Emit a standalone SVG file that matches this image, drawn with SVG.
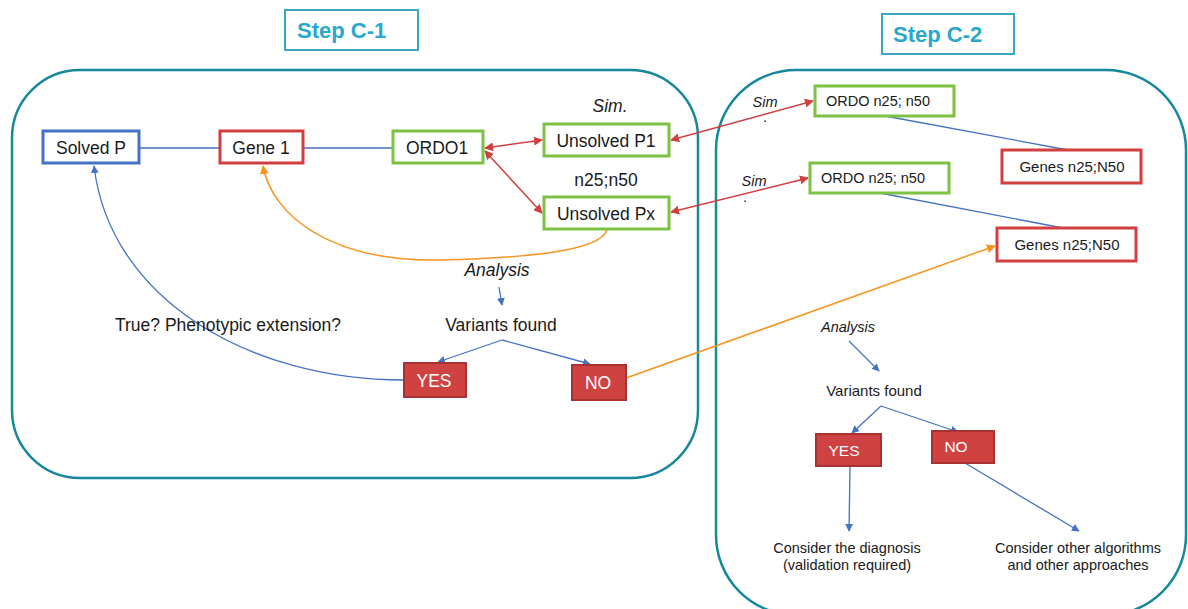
<svg xmlns="http://www.w3.org/2000/svg" width="1188" height="609" viewBox="0 0 1188 609">
<defs>
<marker id="ab" viewBox="0 0 10 10" refX="9" refY="5" markerWidth="6" markerHeight="6" orient="auto-start-reverse"><path d="M0,0 L10,5 L0,10 z" fill="#4472C4"/></marker>
<marker id="ar" viewBox="0 0 10 10" refX="9" refY="5" markerWidth="6" markerHeight="6" orient="auto-start-reverse"><path d="M0,0 L10,5 L0,10 z" fill="#D13F3F"/></marker>
<marker id="ao" viewBox="0 0 10 10" refX="9" refY="5" markerWidth="6" markerHeight="6" orient="auto-start-reverse"><path d="M0,0 L10,5 L0,10 z" fill="#F7941D"/></marker>
</defs>
<style>
text{font-family:"Liberation Sans",Arial,sans-serif;fill:#1a1a1a}
.step{fill:none;stroke:#3BA6C4;stroke-width:2}
.steptxt{font-weight:bold;font-size:22px;fill:#2AA7CC}
.cont{fill:none;stroke:#17889C;stroke-width:2.5}
.blue{fill:#fff;stroke:#4472C4;stroke-width:3}
.red{fill:#fff;stroke:#D13F3F;stroke-width:3}
.green{fill:#fff;stroke:#7DC242;stroke-width:3}
.fill{fill:#CF4242;stroke:#A83232;stroke-width:2}
.t17{font-size:17.5px}
.t15{font-size:15px}
.t14{font-size:14.5px}
.it{font-style:italic}
.wt{fill:#fff;font-size:17.5px}
.wt2{fill:#fff;font-size:15.5px}
.lb{fill:none;stroke:#4472C4;stroke-width:1.3}
.lr{fill:none;stroke:#D13F3F;stroke-width:1.5}
.lo{fill:none;stroke:#F7941D;stroke-width:1.5}
</style>
<rect width="1188" height="609" fill="#fff"/>
<g id="step-c1"><rect class="step" x="285" y="10" width="133" height="40"/><text class="steptxt" x="297" y="38">Step C-1</text></g>
<g id="step-c2"><rect class="step" x="882" y="14" width="132" height="40"/><text class="steptxt" x="893" y="42">Step C-2</text></g>
<g id="container-c1"><rect class="cont" x="12" y="70" width="686" height="408" rx="68"/></g>
<g id="container-c2"><rect class="cont" x="716" y="70" width="470" height="545" rx="80"/></g>

<g id="connectors">
<line class="lb" x1="139" y1="148" x2="220" y2="148"/>
<line class="lb" x1="303" y1="148" x2="393" y2="148"/>
<line class="lr" x1="485" y1="148" x2="542" y2="140" marker-start="url(#ar)" marker-end="url(#ar)"/>
<line class="lr" x1="485" y1="151" x2="542" y2="213" marker-start="url(#ar)" marker-end="url(#ar)"/>
<line class="lr" x1="671" y1="140" x2="813" y2="101" marker-start="url(#ar)" marker-end="url(#ar)"/>
<line class="lr" x1="671" y1="212" x2="808" y2="178" marker-start="url(#ar)" marker-end="url(#ar)"/>
<line class="lb" x1="885" y1="116" x2="1068" y2="150"/>
<line class="lb" x1="880" y1="193" x2="1063" y2="228"/>
<path class="lo" d="M607,230 C600,252 520,258 440,260 C330,262 272,215 263,166" marker-end="url(#ao)"/>
<line class="lb" x1="499" y1="287" x2="502" y2="305" marker-end="url(#ab)"/>
<line class="lb" x1="502" y1="340" x2="438" y2="362" marker-end="url(#ab)"/>
<line class="lb" x1="502" y1="340" x2="590" y2="364" marker-end="url(#ab)"/>
<path class="lb" d="M404,380 C250,380 110,300 94,166" marker-end="url(#ab)"/>
<line class="lo" x1="626" y1="378" x2="995" y2="246" marker-end="url(#ao)"/>
<line class="lb" x1="849" y1="341" x2="879" y2="371" marker-end="url(#ab)"/>
<line class="lb" x1="881" y1="406" x2="852" y2="433" marker-end="url(#ab)"/>
<line class="lb" x1="881" y1="406" x2="958" y2="432" marker-end="url(#ab)"/>
<line class="lb" x1="850" y1="467" x2="849" y2="531" marker-end="url(#ab)"/>
<line class="lb" x1="965" y1="463" x2="1079" y2="531" marker-end="url(#ab)"/>
</g>

<g id="solved-p"><rect class="blue" x="43" y="131" width="96" height="32"/><text class="t17" x="91" y="154" text-anchor="middle">Solved P</text></g>
<g id="gene-1"><rect class="red" x="220" y="131" width="83" height="32"/><text class="t17" x="261" y="154" text-anchor="middle">Gene 1</text></g>
<g id="ordo1"><rect class="green" x="393" y="131" width="90" height="32"/><text class="t17" x="437" y="154" text-anchor="middle">ORDO1</text></g>
<g id="unsolved-p1"><rect class="green" x="544" y="124" width="125" height="32"/><text class="t17" x="606" y="147" text-anchor="middle">Unsolved P1</text></g>
<g id="unsolved-px"><rect class="green" x="544" y="197" width="125" height="32"/><text class="t17" x="606" y="220" text-anchor="middle">Unsolved Px</text></g>
<g id="ordo-a"><rect class="green" x="815" y="86" width="139" height="30"/><text class="t14" x="878" y="106" text-anchor="middle">ORDO n25; n50</text></g>
<g id="genes-a"><rect class="red" x="1002" y="150" width="139" height="33"/><text class="t15" x="1072" y="172" text-anchor="middle">Genes n25;N50</text></g>
<g id="ordo-b"><rect class="green" x="810" y="163" width="139" height="30"/><text class="t14" x="873" y="183" text-anchor="middle">ORDO n25; n50</text></g>
<g id="genes-b"><rect class="red" x="997" y="228" width="139" height="33"/><text class="t15" x="1067" y="250" text-anchor="middle">Genes n25;N50</text></g>
<g id="yes-1"><rect class="fill" x="404" y="363" width="62" height="34"/><text class="wt" x="434" y="387" text-anchor="middle">YES</text></g>
<g id="no-1"><rect class="fill" x="572" y="365" width="54" height="35"/><text class="wt" x="598" y="389" text-anchor="middle">NO</text></g>
<g id="yes-2"><rect class="fill" x="816" y="434" width="65" height="32"/><text class="wt2" x="844" y="456" text-anchor="middle">YES</text></g>
<g id="no-2"><rect class="fill" x="932" y="431" width="62" height="32"/><text class="wt2" x="956" y="452" text-anchor="middle">NO</text></g>

<g id="labels">
<text class="t17 it" x="610" y="112" text-anchor="middle">Sim.</text>
<text class="t17" x="606" y="186" text-anchor="middle">n25;n50</text>
<text class="t14 it" x="765" y="107" text-anchor="middle">Sim</text>
<text class="t14" x="765" y="122" text-anchor="middle">.</text>
<text class="t14 it" x="754" y="186" text-anchor="middle">Sim</text>
<text class="t14" x="745" y="202" text-anchor="middle">.</text>
<text class="t17 it" x="497" y="276" text-anchor="middle">Analysis</text>
<text class="t17" x="501" y="331" text-anchor="middle">Variants found</text>
<text class="t17" x="228" y="331" text-anchor="middle">True? Phenotypic extension?</text>
<text class="t14 it" x="848" y="332" text-anchor="middle">Analysis</text>
<text class="t15" x="874" y="396" text-anchor="middle">Variants found</text>
<text class="t14" x="847" y="553" text-anchor="middle">Consider the diagnosis</text>
<text class="t14" x="847" y="570" text-anchor="middle">(validation required)</text>
<text class="t14" x="1078" y="553" text-anchor="middle">Consider other algorithms</text>
<text class="t14" x="1078" y="570" text-anchor="middle">and other approaches</text>
</g>
</svg>
